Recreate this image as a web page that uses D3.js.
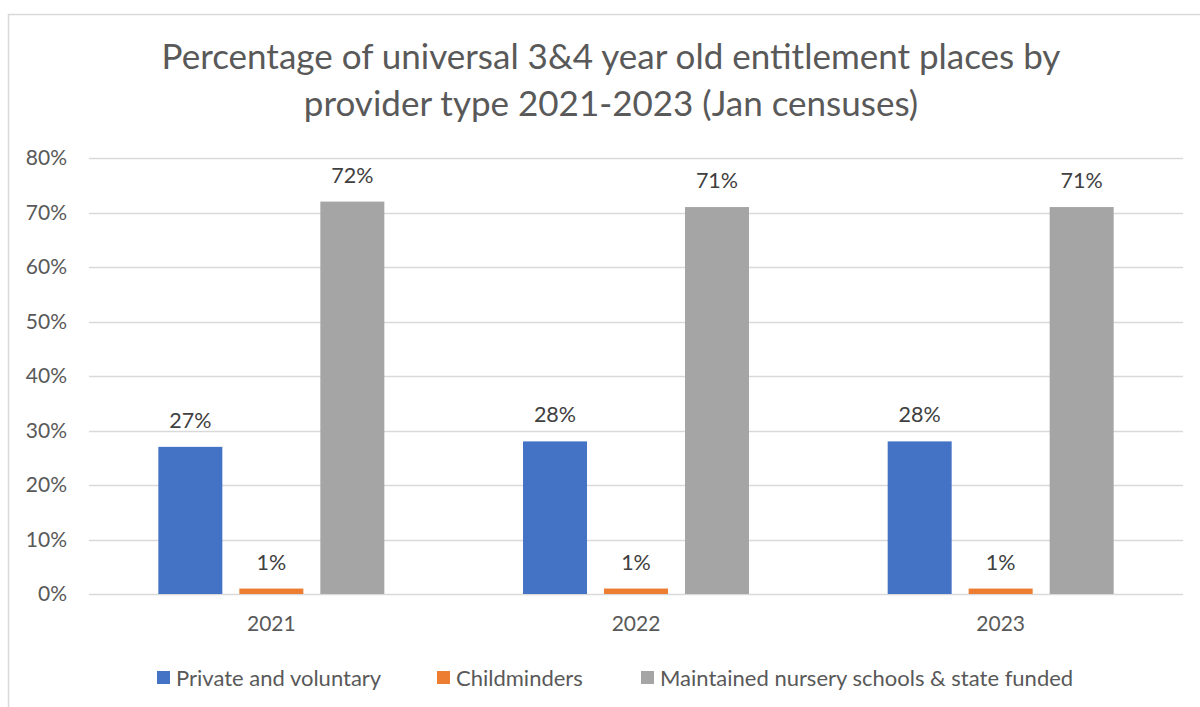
<!DOCTYPE html>
<html>
<head>
<meta charset="utf-8">
<script src="https://cdn.jsdelivr.net/npm/d3@7"></script>
<style>
  html, body { margin: 0; padding: 0; background: #fff; }
  svg { display: block; font-family: Lato, "Open Sans", sans-serif; }
</style>
</head>
<body>
<svg id="chart" width="1200" height="707"></svg>
<script>
// Census years and provider types
const years = ["2021", "2022", "2023"];
const providers = ["Private and voluntary", "Childminders", "Maintained nursery schools & state funded"];
// Share of places (%) per provider, one value per year
const privateVoluntary = [27, 28, 28];
const childminders = [1, 1, 1];
const maintainedSchools = [72, 71, 71];
const yTicks = [0, 10, 20, 30, 40, 50, 60, 70, 80];
const titleLines = ["Percentage of universal 3&4 year old entitlement places by", "provider type 2021-2023 (Jan censuses)"];

const seriesValues = [privateVoluntary, childminders, maintainedSchools];
const colors = ["#4472C4", "#ED7D31", "#A5A5A5"];
const textColor = "#595959";

const svg = d3.select("#chart");

// outer chart frame
svg.append("rect")
  .attr("x", 8.5).attr("y", 14.5)
  .attr("width", 1210).attr("height", 720)
  .attr("fill", "#fff").attr("stroke", "#D9D9D9").attr("stroke-width", 1.5);

// title
const title = svg.append("text")
  .attr("text-anchor", "middle")
  .attr("fill", textColor)
  .attr("font-size", 35);
titleLines.forEach((line, i) => {
  title.append("tspan").attr("x", 611).attr("y", 69 + i * 47).text(line);
});

const plot = { left: 89, right: 1183, top: 158, bottom: 594 };

const y = d3.scaleLinear().domain([0, 80]).range([plot.bottom, plot.top]);
const x0 = d3.scaleBand().domain(years).range([plot.left, plot.right]).paddingInner(0).paddingOuter(0);
const x1 = d3.scaleBand().domain(d3.range(providers.length))
  .range([0, x0.bandwidth()]).paddingInner(0.21).paddingOuter(0.856);

// gridlines
svg.append("g")
  .selectAll("line")
  .data(yTicks)
  .join("line")
  .attr("x1", plot.left).attr("x2", plot.right)
  .attr("y1", d => Math.round(y(d)) + 0.5).attr("y2", d => Math.round(y(d)) + 0.5)
  .attr("stroke", "#D9D9D9").attr("stroke-width", 1.3);

// y axis labels
const yAxis = svg.append("g")
  .attr("transform", `translate(${plot.left - 22},0)`)
  .call(d3.axisLeft(y).tickValues(yTicks).tickFormat(d => d + "%").tickSize(0).tickPadding(0));
yAxis.select(".domain").remove();
yAxis.selectAll("text").attr("fill", textColor).attr("font-size", 21).attr("font-family", "Lato, sans-serif");

// x axis labels
const xAxis = svg.append("g")
  .attr("transform", `translate(0,${plot.bottom + 22})`)
  .call(d3.axisBottom(x0).tickSize(0).tickPadding(0));
xAxis.select(".domain").remove();
xAxis.selectAll("text").attr("fill", textColor).attr("font-size", 21).attr("font-family", "Lato, sans-serif");

// bars
const groups = svg.append("g")
  .selectAll("g")
  .data(years)
  .join("g")
  .attr("transform", d => `translate(${x0(d)},0)`);

groups.selectAll("rect")
  .data((d, yi) => seriesValues.map((vals, si) => ({ si, v: vals[yi] })))
  .join("rect")
  .attr("x", d => x1(d.si))
  .attr("width", x1.bandwidth())
  .attr("y", d => y(d.v))
  .attr("height", d => y(0) - y(d.v))
  .attr("fill", d => colors[d.si]);

// value labels
groups.selectAll("text.val")
  .data((d, yi) => seriesValues.map((vals, si) => ({ si, v: vals[yi] })))
  .join("text")
  .attr("class", "val")
  .attr("x", d => x1(d.si) + x1.bandwidth() / 2)
  .attr("y", d => y(d.v) - 19)
  .attr("text-anchor", "middle")
  .attr("fill", "#404040")
  .attr("font-size", 21.5)
  .text(d => d.v + "%");

// legend
const legendX = [157, 437, 641];
const legend = svg.append("g");
providers.forEach((p, i) => {
  legend.append("rect")
    .attr("x", legendX[i]).attr("y", 671)
    .attr("width", 13).attr("height", 13)
    .attr("fill", colors[i]);
  legend.append("text")
    .attr("x", legendX[i] + 19).attr("y", 686)
    .attr("fill", textColor)
    .attr("font-size", 22)
    .text(p);
});
</script>
</body>
</html>
